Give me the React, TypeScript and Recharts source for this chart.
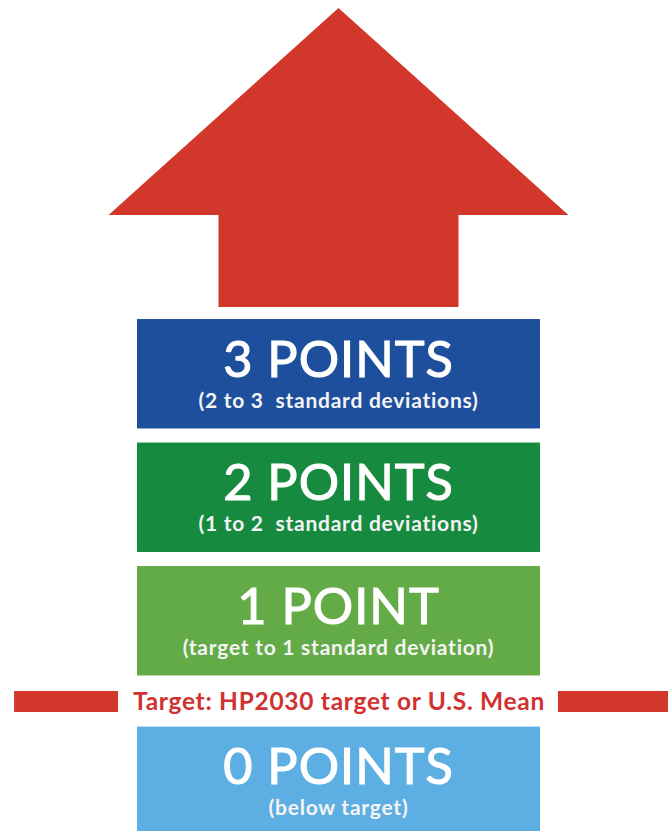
import React from "react";
import { ComposedChart, XAxis, YAxis, ReferenceArea } from "recharts";

// Score tiers (top to bottom)
const tierLabels = ["3 POINTS", "2 POINTS", "1 POINT", "0 POINTS"];
const tierNotes = [
  "(2 to 3  standard deviations)",
  "(1 to 2  standard deviations)",
  "(target to 1 standard deviation)",
  "(below target)",
];
// Range of each tier, in standard deviations above the target
const tierLowSD = [2, 1, 0, -1];
const tierHighSD = [3, 2, 1, 0];
const targetLabel = "Target: HP2030 target or U.S. Mean";

// styles
const tierColors = ["#1E4F9D", "#168A3F", "#63AB47", "#5CAEE3"];
const RED = "#D2372C";
const TEXT_RED = "#CF3230";
const FONT = "Lato, 'Open Sans', sans-serif";

// layout (axis units)
const X_DOMAIN: [number, number] = [-1.6799, 1.63524];
const Y_DOMAIN: [number, number] = [-1.2024, 5.5263];
const INSET = 0.057;
const BELOW_SHIFT = 0.3;

const chartData = tierLabels.map((t, i) => ({ tier: t, lo: tierLowSD[i], hi: tierHighSD[i] }));

const TierShape = (i: number) => (props: any) => {
  const { x, y, width, height } = props;
  const cx = x + width / 2;
  return (
    <g>
      <rect x={x} y={y} width={width} height={height} fill={tierColors[i]} />
      <text
        x={cx}
        y={y + 57.5}
        textAnchor="middle"
        fill="#FFFFFF"
        stroke="#FFFFFF"
        strokeWidth={1.1}
        fontFamily={FONT}
        fontSize={50.5}
        fontWeight={400}
        letterSpacing={1}
      >
        {tierLabels[i]}
      </text>
      <text
        x={cx}
        y={y + 88.5}
        textAnchor="middle"
        fill="#F4F4F4"
        fontFamily={FONT}
        fontSize={21}
        fontWeight={700}
        letterSpacing={0.75}
        style={{ whiteSpace: "pre" }}
      >
        {tierNotes[i]}
      </text>
    </g>
  );
};

const ArrowShape = (props: any) => {
  const { x, y, width, height } = props;
  const cx = x + width / 2;
  const headY = y + height * 0.692;
  const half = width * 0.261;
  const pts = [
    [cx, y],
    [x + width, headY],
    [cx + half, headY],
    [cx + half, y + height],
    [cx - half, y + height],
    [cx - half, headY],
    [x, headY],
  ]
    .map((p) => p.join(","))
    .join(" ");
  return <polygon points={pts} fill={RED} />;
};

const TargetText = (props: any) => {
  const { x, y, width, height } = props;
  return (
    <text
      x={x + width / 2 + 1}
      y={y + height / 2 + 8}
      textAnchor="middle"
      fill={TEXT_RED}
      fontFamily={FONT}
      fontSize={24.5}
      fontWeight={700}
      letterSpacing={0.7}
    >
      {targetLabel}
    </text>
  );
};

export default function App() {
  return (
    <div style={{ position: "absolute", left: 0, top: 0, width: 668, height: 831, background: "#fff" }}>
      <ComposedChart width={668} height={831} data={chartData} margin={{ top: 0, right: 0, bottom: 0, left: 0 }}>
        <XAxis type="number" dataKey="lo" domain={X_DOMAIN} hide allowDataOverflow />
        <YAxis type="number" domain={Y_DOMAIN} hide allowDataOverflow />
        {/* arrow */}
        <ReferenceArea
          x1={-1.141}
          x2={1.141}
          y1={3.04}
          y2={5.4615}
          ifOverflow="visible"
          shape={ArrowShape}
        />
        {chartData.map((d, i) => {
          const shift = d.lo < 0 ? BELOW_SHIFT : 0;
          return (
            <ReferenceArea
              key={d.tier}
              x1={-1}
              x2={1}
              y1={d.lo + INSET - shift}
              y2={d.hi - INSET - shift}
              ifOverflow="visible"
              shape={TierShape(i)}
            />
          );
        })}
        {/* target line */}
        <ReferenceArea x1={-1.61} x2={-1.094} y1={-0.239} y2={-0.069} ifOverflow="visible" fill={RED} fillOpacity={1} stroke="none" />
        <ReferenceArea x1={1.089} x2={1.63524} y1={-0.239} y2={-0.069} ifOverflow="visible" fill={RED} fillOpacity={1} stroke="none" />
        <ReferenceArea x1={-1.094} x2={1.089} y1={-0.239} y2={-0.069} ifOverflow="visible" shape={TargetText} />
      </ComposedChart>
    </div>
  );
}
